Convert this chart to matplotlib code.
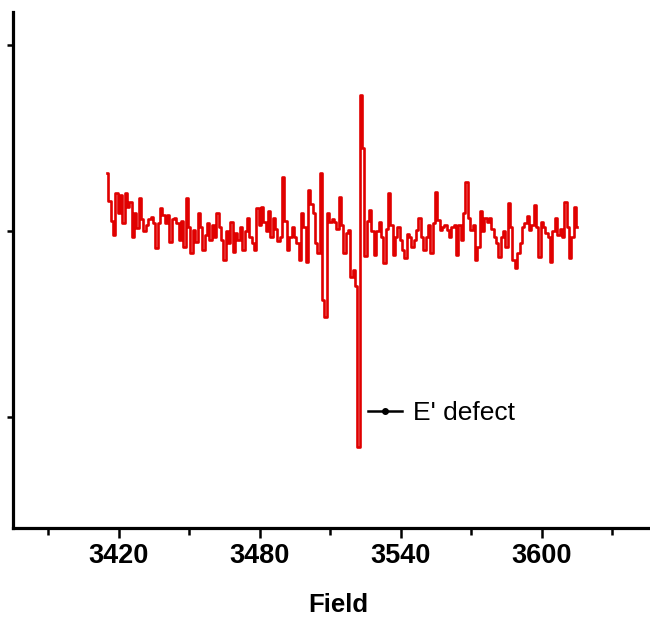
import numpy as np
import matplotlib
matplotlib.use("Agg")
import matplotlib.pyplot as plt
from matplotlib.lines import Line2D

# EPR trace, field in Gauss, one point per G from 3415 to 3615
field = np.arange(3415, 3616, 1)
signal = [
    58, 30, 10, -4, 38, 18, 36, 8, 38, 24,
    29, -6, 18, 3, 33, 12, 0, 6, 12, 14,
    8, -17, 8, 23, 16, 8, 16, -11, 12, 13,
    8, -9, 10, -16, 33, 4, -22, 1, -11, 18,
    4, -19, -4, 8, -9, 6, -6, 18, 4, -9,
    -29, 0, -12, 9, -21, -2, -9, 4, -19, 0,
    13, -6, -12, -19, 23, 6, 24, 9, 0, 20,
    -6, 13, 2, -10, -6, 54, 10, -19, -6, 4,
    -6, -12, -29, 18, 4, -31, 41, 27, 18, -12,
    -22, 58, -69, -86, 18, 9, 12, 9, 2, 34,
    6, -22, -2, 1, -46, -39, -55, -216, 136, 83,
    -25, 10, 21, 0, -24, 0, 9, -6, -32, 2,
    38, 6, -24, -6, 4, -9, -19, -27, -3, -6,
    -16, -9, 1, 13, -6, -19, -6, 6, -22, 8,
    39, 11, 1, 4, 6, 1, -6, 4, 6, -24,
    6, -9, 18, 49, 13, 1, 6, -29, -16, 20,
    0, 13, 9, 13, 2, -6, -12, -26, -6, 0,
    -16, 28, 4, -29, -37, -22, -12, 4, 8, 15,
    1, 6, 26, 4, -26, 9, 4, -2, -6, -31,
    0, 13, -4, 2, -6, 29, 4, -27, -6, 24,
    4,
]

major_ticks = [3420, 3480, 3540, 3600]
minor_ticks = [3390, 3450, 3510, 3570, 3630]
y_ticks = [-186, 0, 186]

fig = plt.figure(figsize=(6.5, 6.18), dpi=100)
ax = fig.add_axes([13 / 650, 90 / 618, 637 / 650, 516 / 618])

ax.plot(field, signal, color="#e00000", lw=1.9, drawstyle="steps-mid")

ax.set_xlim(3375, 3646)
ax.set_ylim(-297, 219)

ax.spines["top"].set_visible(False)
ax.spines["right"].set_visible(False)
for s in ["left", "bottom"]:
    ax.spines[s].set_linewidth(2.3)

ax.set_xticks(major_ticks)
ax.set_xticks(minor_ticks, minor=True)
ax.set_xticklabels([str(t) for t in major_ticks], fontsize=19.5, fontweight="bold",
                   family="Liberation Sans")
ax.tick_params(axis="x", which="major", length=7, width=1.8, pad=4)
ax.tick_params(axis="x", which="minor", length=5, width=1.8)
ax.set_yticks(y_ticks)
ax.set_yticklabels([])
ax.tick_params(axis="y", length=4, width=1.8)

ax.set_xlabel("Field", fontsize=18.5, fontweight="bold", family="Liberation Sans")
ax.xaxis.set_label_coords((338 - 13) / 637, -0.125)

handle = Line2D([], [], color="black", lw=1.8, marker="o", markersize=4)
ax.legend([handle], ["E' defect"], loc="center left",
          bbox_to_anchor=((368 - 13) / 637, (528 - 413) / 516),
          frameon=False, borderpad=0, borderaxespad=0,
          handlelength=1.3, handletextpad=0.4,
          prop={"family": "Liberation Sans", "size": 19})

fig.savefig("out.png", dpi=100)
